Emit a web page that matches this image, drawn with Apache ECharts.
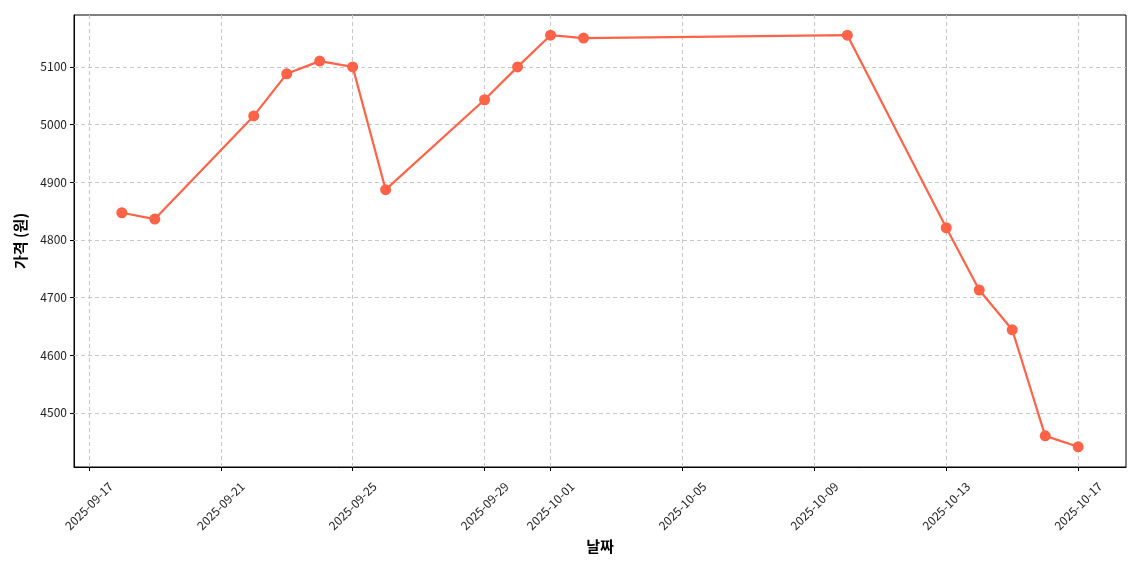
<!DOCTYPE html>
<html>
<head>
<meta charset="utf-8">
<script src="https://cdn.jsdelivr.net/npm/echarts@6/dist/echarts.min.js"></script>
<style>
  html, body { margin: 0; padding: 0; background: #fff; }
  #chart { width: 1140px; height: 570px; }
</style>
</head>
<body>
<div id="chart"></div>
<script>
// 날짜 / 가격 데이터
var dates = ['2025-09-18', '2025-09-19', '2025-09-22', '2025-09-23', '2025-09-24', '2025-09-25',
  '2025-09-26', '2025-09-29', '2025-09-30', '2025-10-01', '2025-10-02', '2025-10-10',
  '2025-10-13', '2025-10-14', '2025-10-15', '2025-10-16', '2025-10-17'];
var prices = [4847, 4836, 5015, 5088, 5110, 5100, 4887, 5043, 5100, 5155, 5150, 5155,
  4821, 4713, 4644, 4460, 4441];
var xTicks = ['2025-09-17', '2025-09-21', '2025-09-25', '2025-09-29', '2025-10-01',
  '2025-10-05', '2025-10-09', '2025-10-13', '2025-10-17'];
var yTicks = [4500, 4600, 4700, 4800, 4900, 5000, 5100];

function toTime(s) {
  var p = s.split('-');
  return new Date(+p[0], +p[1] - 1, +p[2]).getTime();
}
function pad(n) { return n < 10 ? '0' + n : '' + n; }
function fmt(v) {
  var d = new Date(v);
  return d.getFullYear() + '-' + pad(d.getMonth() + 1) + '-' + pad(d.getDate());
}

var xTickVals = xTicks.map(toTime);
var seriesData = dates.map(function (d, i) { return [toTime(d), prices[i]]; });

// matplotlib 기본 여백 5%
var tMin = toTime(dates[0]), tMax = toTime(dates[dates.length - 1]);
var pad5 = (tMax - tMin) * 0.05;
var gridColor = '#c9c9c9';
var font = '"Noto Sans CJK KR", "Noto Sans", sans-serif';

var chart = echarts.init(document.getElementById('chart'));
var option = {
  animation: false,
  backgroundColor: '#fff',
  textStyle: { fontFamily: font },
  grid: {
    left: 74, right: 14, top: 15, bottom: 103,
    show: true, borderColor: '#000', borderWidth: 1
  },
  xAxis: {
    type: 'value',
    min: tMin - pad5,
    max: tMax + pad5,
    name: '날짜',
    nameLocation: 'middle',
    nameGap: 71,
    nameTextStyle: { fontSize: 15, fontWeight: 'bold', color: '#000', fontFamily: font },
    axisLine: { show: true, lineStyle: { color: '#000', width: 1 } },
    axisTick: { show: true, customValues: xTickVals, length: 4, lineStyle: { color: '#000' } },
    axisLabel: {
      customValues: xTickVals,
      rotate: 45,
      align: 'center',
      verticalAlign: 'middle',
      margin: 39,
      fontSize: 12,
      color: '#222',
      fontFamily: font,
      formatter: function (v) { return fmt(v); }
    },
    splitLine: { show: false }
  },
  yAxis: {
    type: 'value',
    min: 4406,
    max: 5190,
    name: '가격 (원)',
    nameLocation: 'middle',
    nameGap: 46,
    nameTextStyle: { fontSize: 15, fontWeight: 'bold', color: '#000', fontFamily: font },
    axisLine: { show: true, lineStyle: { color: '#000', width: 1 } },
    axisTick: { show: true, customValues: yTicks, length: 4, lineStyle: { color: '#000' } },
    axisLabel: {
      customValues: yTicks, fontSize: 12, color: '#222', margin: 7, fontFamily: font,
      formatter: function (v) { return String(v); }
    },
    splitLine: { show: false }
  },
  series: [
    {
      // 격자선
      type: 'line',
      z: 1,
      silent: true,
      symbol: 'none',
      lineStyle: { opacity: 0 },
      data: seriesData,
      markLine: {
        z: 1,
        silent: true,
        symbol: ['none', 'none'],
        label: { show: false },
        lineStyle: { color: gridColor, type: [4, 3], width: 1 },
        data: yTicks.map(function (v) { return { yAxis: v }; })
          .concat(xTickVals.map(function (v) { return { xAxis: v }; }))
      }
    },
    {
      type: 'line',
      z: 10,
      data: seriesData,
      symbol: 'circle',
      symbolSize: 11,
      lineStyle: { color: '#FF6347', width: 2.2 },
      itemStyle: { color: '#FF6347' }
    }
  ]
};
chart.setOption(option);
</script>
</body>
</html>
